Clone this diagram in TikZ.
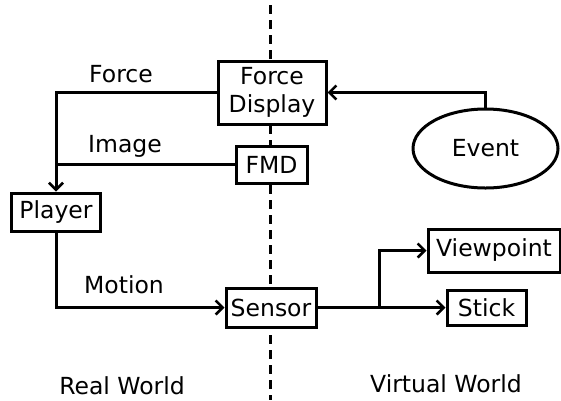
\documentclass[tikz,border=0pt]{standalone}
\usepackage{fontspec}
\setmainfont{DejaVu Sans}
\usetikzlibrary{arrows.meta,shapes.geometric}

\begin{document}
\begin{tikzpicture}[x=1pt,y=-1pt,line width=3pt,
    box/.style={draw,fill=white,inner sep=0pt,font=\fontsize{23.5}{28}\selectfont},
    lbl/.style={font=\fontsize{23.5}{28}\selectfont},
    arr/.style={-{Straight Barb[length=7pt,width=14pt,line width=2.6pt]}}]
      \useasboundingbox (0,0) rectangle (561,400);
      % boundary between the two worlds
      \draw[dash pattern=on 9pt off 6pt] (270,5)--(270,400);
      \node[box,minimum width=108pt,minimum height=63pt,align=center] (fdisp) at (272,92.5) {Force\\Display};
      \node[box,minimum width=71pt,minimum height=37pt] (fmd) at (271.5,164.5) {FMD};
      \node[box,minimum width=89pt,minimum height=38pt] (player) at (56,212) {Player};
      \node[box,minimum width=90pt,minimum height=39pt] (sensor) at (271,307.5) {Sensor};
      \node[box,minimum width=132pt,minimum height=43pt] (viewpt) at (494,250.5) {Viewpoint};
      \node[box,minimum width=79pt,minimum height=35pt] (stick) at (486.5,307.5) {Stick};
      \node[box,ellipse,minimum width=145pt,minimum height=79pt] (event) at (485.5,148.5) {Event};
      \draw[arr] (fdisp.west) -| (player.north);
      \draw (fmd.west) -- (fmd.west -| player.north);
      \draw[arr] (event.north) |- (fdisp.east);
      \draw[arr] (player.south) |- (sensor.west);
      \draw[arr] (sensor.east) -- (stick.west);
      \coordinate (split) at (379,307.5);
      \draw[arr] (split) |- (viewpt.west);
      \node[lbl] (force) at (121,74) {Force};
      \node[lbl] (image) at (125,146) {Image};
      \node[lbl] (motion) at (124,285) {Motion};
      \node[lbl] (real) at (122,386) {Real World};
      \node[lbl] (virtual) at (446,384) {Virtual World};
\end{tikzpicture}
\end{document}
